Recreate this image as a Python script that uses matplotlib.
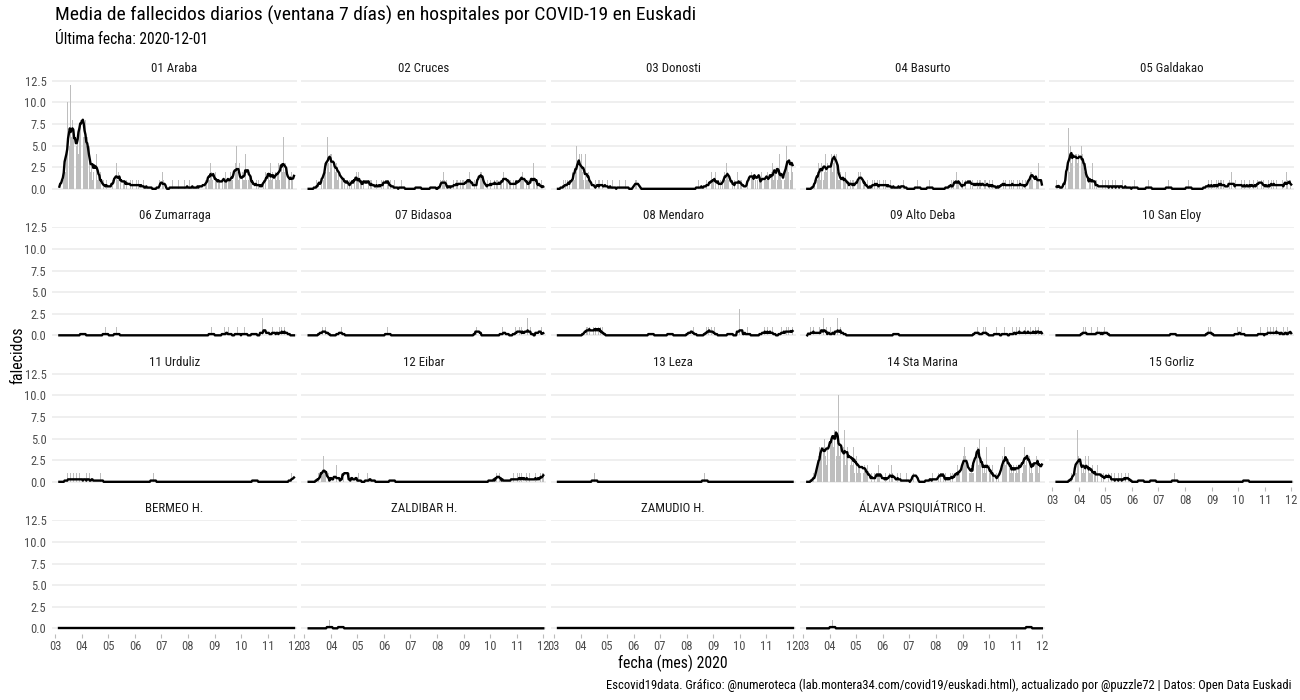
import numpy as np
import pandas as pd
import matplotlib
matplotlib.use("Agg")
import matplotlib.pyplot as plt
import matplotlib.dates as mdates

plt.rcParams['font.family'] = ['Roboto Condensed', 'Liberation Sans Narrow', 'Roboto', 'DejaVu Sans']

# ---------------- data ----------------
start_date = "2020-03-06"
end_date = "2020-12-01"
month_len = [26, 30, 31, 30, 31, 31, 30, 31, 30, 1]   # Mar(6-31) ... Dec(1)

# dense daily counts, one string per month (base-36 digits: a=10, c=12)
araba = ["00102 1324a 355c6 87564 56478c", "79668 56435 23124 32412 12010 10010",
         "01000 10211 31201 12011 01101 010100", "10101 00100 10000 01000 00000 00010",
         "01210 00000 00010 00000 10000 001000", "00100 00010 00001 01000 11021 132121",
         "12101 10211 01211 01121 12113 52131", "10211 41241 21101 01010 10010 010212",
         "12131 20212 12312 23262 32121 10212", "1"]
cruces = ["00000 00001 00102 10132 246324", "43333 23123 12110 12101 01010 12102",
          "12101 10101 21010 11001 00100 100101", "01201 10100 00100 00000 10000 00000",
          "00000 00001 00000 00000 00000 010000", "00001 01210 01000 01001 00110 101011",
          "01011 12101 00101 01042 21100 10100", "10110 10110 10110 21121 10110 101011",
          "01201 12121 01011 01113 10110 10010", "0"]
donosti = ["00000 01001 01011 10211 252324", "34212 14112 10110 00100 01100 10010",
           "01000 00100 00000 10000 00100 000000", "00111 10000 00000 00000 00000 00000",
           "00000 00000 00000 00000 00000 000000", "00000 00000 00001 00000 10010 011021",
           "10211 01010 11021 32121 10101 01021", "01100 10001 01412 11012 41011 201211",
           "12121 02312 23212 42101 21253 24513", "2"]
basurto = ["00000 00010 12132 13241 242313", "23423 46342 11201 21120 10101 01100",
           "10121 21201 10010 00001 01100 101001", "01010 01001 00000 10000 01001 00000",
           "00000 00000 10000 00000 00001 000000", "00000 00000 00001 00010 10012 110010",
           "10010 12101 01011 00101 10100 11001", "01001 00100 00010 10101 01001 010101",
           "00101 01010 01001 11221 22101 13011", "0"]
galdakao = ["10000 10000 12137 25344 434434", "34354 32312 10110 31010 10010 00100",
            "10001 00010 00100 01000 10000 010000", "00010 00000 00000 00001 00000 00000",
            "00000 00000 00100 00000 00000 000000", "00001 00000 00000 00000 00001 001001",
            "00100 10100 11010 00100 10201 00100", "11001 00100 10010 01010 00101 201010",
            "01001 00101 10010 01100 10010 21001", "1"]
sta_marina = ["00000 00101 10234 34254 532436", "45554 68435 a3423 34623 42342 32413",
              "23122 12131 21120 11010 01010 121010", "10010 01010 21001 00100 10000 00100",
              "00000 11210 00000 00000 00100 001001", "00010 12101 01000 10101 01011 211021",
              "23432 21211 21121 73425 32121 21412", "12102 10101 01012 13242 32412 121212",
              "12122 12312 42343 23121 21423 21231", "2"]

# sparse daily counts: (MM-DD, deaths) on days with deaths
zumarraga = [("04-02", 1), ("04-28", 1), ("05-11", 1), ("08-28", 1), ("09-12", 1), ("09-17", 1),
             ("09-27", 1), ("10-05", 1), ("10-16", 1), ("10-26", 2), ("10-30", 2), ("11-06", 1),
             ("11-09", 1), ("11-14", 1), ("11-17", 1), ("11-20", 1), ("11-23", 1)]
bidasoa = [("03-20", 1), ("03-22", 1), ("03-25", 1), ("03-27", 1), ("04-10", 1), ("04-13", 1),
           ("06-05", 1), ("09-15", 1), ("09-17", 2), ("10-15", 1), ("10-19", 1), ("10-30", 1),
           ("11-02", 1), ("11-04", 1), ("11-06", 1), ("11-10", 1), ("11-13", 2), ("11-16", 1),
           ("11-25", 2), ("11-29", 1)]
mendaro = [("04-06", 1), ("04-08", 1), ("04-09", 1), ("04-11", 1), ("04-13", 1), ("04-14", 1),
           ("04-16", 1), ("04-18", 1), ("04-20", 2), ("04-22", 1), ("04-24", 1), ("04-26", 1),
           ("06-21", 1), ("07-13", 1), ("08-04", 1), ("08-06", 1), ("08-09", 1), ("08-24", 1),
           ("08-26", 1), ("08-28", 1), ("08-30", 1), ("09-02", 1), ("09-20", 1), ("10-01", 3),
           ("10-04", 1), ("10-10", 1), ("10-27", 1), ("10-30", 1), ("11-02", 1), ("11-05", 1),
           ("11-08", 1), ("11-18", 1), ("11-21", 1), ("11-24", 1), ("11-26", 1), ("11-28", 1),
           ("12-01", 1)]
alto_deba = [("03-10", 1), ("03-13", 1), ("03-16", 1), ("03-20", 1), ("03-23", 1), ("03-25", 2),
             ("03-28", 1), ("04-02", 1), ("04-07", 1), ("04-10", 2), ("04-13", 1), ("04-16", 1),
             ("06-16", 1), ("09-16", 1), ("09-18", 1), ("09-25", 1), ("09-27", 1), ("10-10", 1),
             ("10-19", 1), ("10-28", 1), ("11-02", 1), ("11-05", 1), ("11-08", 1), ("11-12", 1),
             ("11-14", 1), ("11-18", 1), ("11-21", 1), ("11-24", 1), ("11-27", 1), ("11-29", 1)]
san_eloy = [("04-06", 1), ("04-08", 1), ("04-15", 1), ("04-22", 1), ("04-24", 1), ("04-30", 1),
            ("05-02", 1), ("07-18", 1), ("08-28", 1), ("08-30", 1), ("09-30", 1), ("10-05", 1),
            ("10-27", 1), ("11-04", 1), ("11-07", 1), ("11-11", 1), ("11-14", 1), ("11-17", 1),
            ("11-22", 1), ("11-27", 1), ("12-01", 1)]
urduliz = [("03-15", 1), ("03-19", 1), ("03-22", 1), ("03-26", 1), ("03-29", 1), ("04-02", 1),
           ("04-06", 1), ("04-10", 1), ("04-15", 1), ("04-22", 1), ("06-22", 1), ("10-17", 1),
           ("11-28", 1), ("12-01", 1)]
eibar = [("03-17", 1), ("03-19", 1), ("03-21", 1), ("03-22", 1), ("03-23", 3), ("03-24", 1),
         ("03-25", 1), ("03-26", 2), ("03-29", 1), ("04-03", 2), ("04-07", 2), ("04-10", 1),
         ("04-15", 1), ("04-17", 5), ("04-19", 1), ("04-22", 1), ("04-27", 2), ("05-02", 1),
         ("05-13", 1), ("05-18", 1), ("06-10", 1), ("10-02", 1), ("10-08", 1), ("10-10", 2),
         ("10-12", 1), ("10-18", 1), ("10-25", 1), ("10-28", 1), ("11-01", 1), ("11-04", 1),
         ("11-06", 1), ("11-09", 1), ("11-12", 1), ("11-15", 1), ("11-19", 1), ("11-22", 1),
         ("11-25", 1), ("11-28", 1), ("11-30", 1), ("12-01", 1)]
leza = [("04-17", 1), ("08-22", 1)]
gorliz = [("03-23", 1), ("03-25", 1), ("03-27", 2), ("03-28", 1), ("03-29", 1), ("03-30", 6),
          ("03-31", 3), ("04-01", 2), ("04-02", 1), ("04-03", 3), ("04-04", 2), ("04-05", 1),
          ("04-06", 2), ("04-07", 1), ("04-08", 3), ("04-09", 1), ("04-10", 2), ("04-11", 1),
          ("04-12", 3), ("04-13", 1), ("04-14", 1), ("04-15", 1), ("04-16", 2), ("04-17", 1),
          ("04-18", 1), ("04-19", 1), ("04-20", 1), ("04-22", 2), ("04-24", 1), ("04-25", 1),
          ("04-26", 1), ("04-27", 1), ("04-29", 1), ("05-02", 1), ("05-04", 2), ("05-05", 1),
          ("05-08", 1), ("05-12", 1), ("05-16", 1), ("05-20", 1), ("05-24", 1), ("05-26", 1),
          ("05-28", 1), ("06-11", 1), ("06-25", 1), ("07-20", 1), ("10-10", 1)]
bermeo = []
zaldibar = [("03-30", 1), ("04-12", 1)]
zamudio = []
alava_psiq = [("04-04", 1), ("11-16", 1)]

hospital_names = ["01 Araba", "02 Cruces", "03 Donosti", "04 Basurto", "05 Galdakao",
                  "06 Zumarraga", "07 Bidasoa", "08 Mendaro", "09 Alto Deba", "10 San Eloy",
                  "11 Urduliz", "12 Eibar", "13 Leza", "14 Sta Marina", "15 Gorliz",
                  "BERMEO H.", "ZALDIBAR H.", "ZAMUDIO H.", "ÁLAVA PSIQUIÁTRICO H."]
hospital_data = [araba, cruces, donosti, basurto, galdakao,
                 zumarraga, bidasoa, mendaro, alto_deba, san_eloy,
                 urduliz, eibar, leza, sta_marina, gorliz,
                 bermeo, zaldibar, zamudio, alava_psiq]

y_ticks = [0, 2.5, 5, 7.5, 10, 12.5]
month_ticks = ["2020-%02d-01" % m for m in range(3, 13)]

# ---------------- build series ----------------
dates = pd.date_range(start_date, end_date, freq="D")


def to_series(d):
    if len(d) > 0 and isinstance(d[0], str):
        vals = []
        for s, n in zip(d, month_len):
            s = s.replace(" ", "")
            assert len(s) == n, (s, n)
            vals += [int(ch, 36) for ch in s]
        return pd.Series(vals, index=dates, dtype=float)
    ser = pd.Series(0.0, index=dates)
    for md, v in d:
        ser[pd.Timestamp("2020-" + md)] += v
    return ser


# ---------------- figure ----------------
W, H = 1300, 700
fig = plt.figure(figsize=(13, 7), dpi=100)
fig.patch.set_facecolor("white")

x0 = pd.Timestamp("2020-03-01") - pd.Timedelta(days=3.5)
x1 = pd.Timestamp("2020-12-01") + pd.Timedelta(days=3.5)

pw, ph = 245, 114
for i, (name, d) in enumerate(zip(hospital_names, hospital_data)):
    r, c = divmod(i, 5)
    left = 52 + c * 249.3
    top = 80 + r * 146.5
    ax = fig.add_axes([left / W, 1 - (top + ph) / H, pw / W, ph / H])
    ser = to_series(d)
    roll = ser.rolling(7, center=True, min_periods=1).mean()
    ax.bar(ser.index, ser.values, width=0.75, color="#BEBEBE", linewidth=0, zorder=2)
    ax.plot(roll.index, roll.values, color="black", lw=1.7, zorder=3,
            solid_joinstyle="round")
    ax.set_xlim(x0, x1)
    ax.set_ylim(-0.6, 12.6)
    for s in ax.spines.values():
        s.set_visible(False)
    ax.set_yticks(y_ticks)
    ax.yaxis.grid(True, color="#EBEBEB", lw=1.1, zorder=0)
    ax.set_axisbelow(True)
    ax.set_xticks([pd.Timestamp(t) for t in month_ticks])
    ax.xaxis.set_major_formatter(mdates.DateFormatter("%m"))
    if c == 0:
        ax.set_yticklabels(["%.1f" % v for v in y_ticks])
    else:
        ax.set_yticklabels([])
    ax.tick_params(axis="y", length=0, pad=4, labelsize=9, labelcolor="#4D4D4D")
    show_x = (r == 3) or (r == 2 and c == 4)
    if show_x:
        ax.tick_params(axis="x", length=3, width=0.8, color="#BBBBBB", pad=2,
                       labelsize=9, labelcolor="#4D4D4D")
    else:
        ax.tick_params(axis="x", length=0, labelbottom=False)
    fig.text((left + pw / 2) / W, 1 - (top - 11) / H, name, ha="center", va="center",
             fontsize=9.3, color="#1A1A1A")

fig.text(55 / W, 1 - 15 / H, "Media de fallecidos diarios (ventana 7 días) en hospitales por COVID-19 en Euskadi",
         ha="left", va="center", fontsize=14, color="black")
fig.text(55 / W, 1 - 40 / H, "Última fecha: 2020-12-01", ha="left", va="center",
         fontsize=11.2, color="black")
fig.text(18 / W, 1 - 355 / H, "falecidos", rotation=90, ha="center", va="center",
         fontsize=11.3, color="black")
fig.text(673 / W, 1 - 663 / H, "fecha (mes) 2020", ha="center", va="center",
         fontsize=11.3, color="black")
fig.text(1292 / W, 1 - 685 / H,
         "Escovid19data. Gráfico: @numeroteca (lab.montera34.com/covid19/euskadi.html), actualizado por @puzzle72 | Datos: Open Data Euskadi",
         ha="right", va="center", fontsize=9, color="black")

fig.savefig("out.png", dpi=100, facecolor="white")
